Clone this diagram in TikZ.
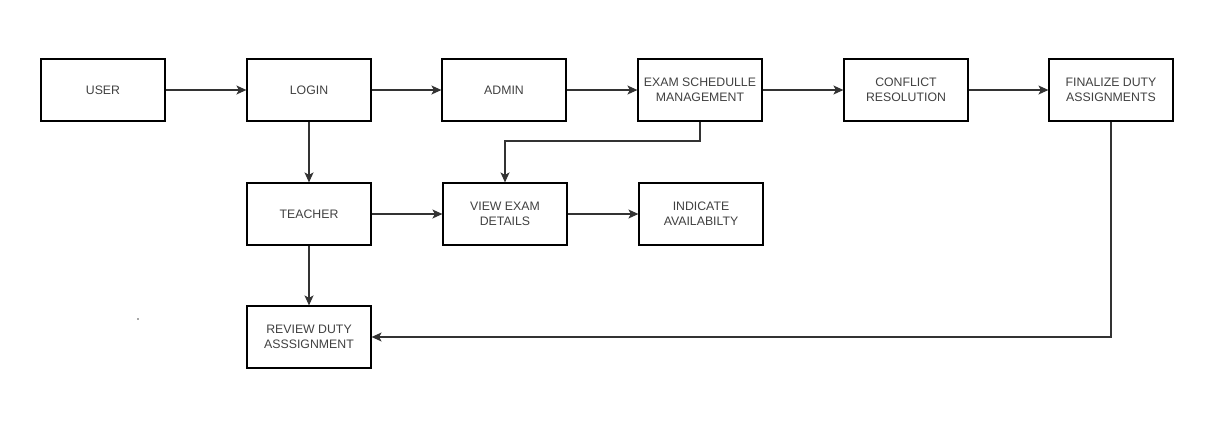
\documentclass[tikz,border=0pt]{standalone}
\usepackage{fontspec}
\setmainfont{Liberation Sans}
\usetikzlibrary{arrows.meta}
\begin{document}
\begin{tikzpicture}[x=1pt,y=-1pt,
  box/.style={draw=black,line width=1.2pt,minimum width=124pt,minimum height=62pt,inner sep=0pt,align=center,font=\fontsize{12.3}{15}\selectfont,text=black!75},
  conn/.style={draw=black!80,line width=1.2pt,-{Stealth[length=10pt,width=9pt,inset=2.5pt]}}]
\useasboundingbox (0,0) rectangle (1207,426);
\node[box] (user) at (103,90) {USER};
\node[box] (login) at (309,90) {LOGIN};
\node[box] (admin) at (504,90) {ADMIN};
\node[box] (exam) at (700,90) {EXAM SCHEDULLE\\MANAGEMENT};
\node[box] (conf) at (906,90) {CONFLICT\\RESOLUTION};
\node[box] (fin) at (1111,90) {FINALIZE DUTY\\ASSIGNMENTS};
\node[box] (teach) at (309,214) {TEACHER};
\node[box] (view) at (505,214) {VIEW EXAM\\DETAILS};
\node[box] (ind) at (701,214) {INDICATE\\AVAILABILTY};
\node[box] (rev) at (309,337) {REVIEW DUTY\\ASSSIGNMENT};
\fill[black!70] (138,319) circle (0.9);
\draw[conn] (user) -- (login);
\draw[conn] (login) -- (admin);
\draw[conn] (admin) -- (exam);
\draw[conn] (exam) -- (conf);
\draw[conn] (conf) -- (fin);
\draw[conn] (login) -- (teach);
\draw[conn] (teach) -- (rev);
\draw[conn] (teach) -- (view);
\draw[conn] (view) -- (ind);
\draw[conn] (exam.south) -- (700,141) -| (view.north);
\draw[conn] (fin.south) |- (rev.east);
\end{tikzpicture}
\end{document}
